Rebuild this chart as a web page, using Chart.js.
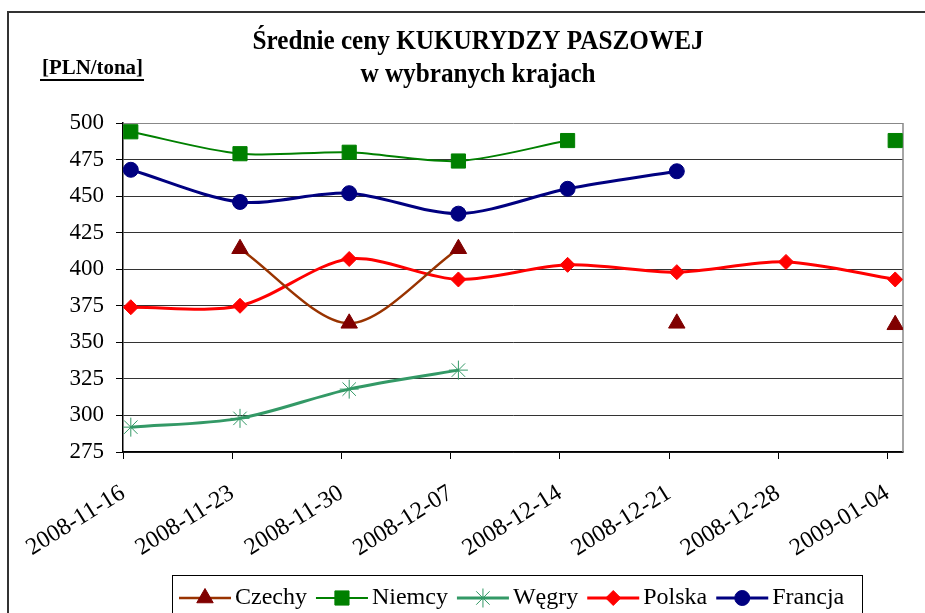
<!DOCTYPE html>
<html>
<head>
<meta charset="utf-8">
<title>Średnie ceny kukurydzy paszowej</title>
<script src="https://cdn.jsdelivr.net/npm/chart.js@4.4.0/dist/chart.umd.min.js"></script>
<style>
  body { margin: 0; background: #fff; }
</style>
</head>
<body>
<canvas id="chart" width="925" height="613"></canvas>
<script>
// weekly dates on the x axis
const dates = ['2008-11-16', '2008-11-23', '2008-11-30', '2008-12-07',
               '2008-12-14', '2008-12-21', '2008-12-28', '2009-01-04'];

// prices [PLN/tona], null = no quotation that week
const czechy  = [null, 414, 363, 414, null, 363, null, 362];
const niemcy  = [494, 479, 480, 474, 488, null, null, 488];
const wegry   = [292, 298, 318, 331, null, null, null, null];
const polska  = [374, 375, 407, 393, 403, 398, 405, 393];
const francja = [468, 446, 452, 438, 455, 467, null, null];

const yTicks = [275, 300, 325, 350, 375, 400, 425, 450, 475, 500];

const serif = '"Liberation Serif", "Times New Roman", serif';

// excel date axis: the points sit half a day right of the weekly tick
function points(values) {
  return values.map((v, i) => ({ x: i * 7 + 0.5, y: v }));
}

function series(label, values, line, marker, style, radius, width) {
  return {
    label: label,
    data: points(values),
    borderColor: line,
    backgroundColor: marker,
    borderWidth: width,
    pointStyle: style,
    pointRadius: radius,
    pointHoverRadius: radius,
    pointBackgroundColor: marker,
    pointBorderColor: marker,
    pointBorderWidth: 1,
    tension: 0.3,
    spanGaps: false
  };
}

const datasets = [
  series('Czechy', czechy, '#993300', '#800000', 'triangle', 9.5, 2.5),
  series('Niemcy', niemcy, '#008000', '#008000', 'rect', 10, 2),
  series('Węgry', wegry, '#339966', '#339966', 'star', 9.5, 3),
  series('Polska', polska, '#ff0000', '#ff0000', 'rectRot', 7.5, 3),
  series('Francja', francja, '#000080', '#000080', 'circle', 7.5, 3)
];

// narrow, tall text like the excel export
function squeezed(ctx, text, x, y, sx) {
  ctx.save();
  ctx.translate(x, y);
  ctx.scale(sx, 1);
  ctx.fillText(text, 0, 0);
  ctx.restore();
}

// title, unit, outer frame and the excel style legend
const decor = {
  id: 'decor',
  beforeDraw(chart) {
    const ctx = chart.ctx;
    ctx.save();
    ctx.fillStyle = '#fff';
    ctx.fillRect(0, 0, chart.width, chart.height);
    ctx.strokeStyle = '#333';
    ctx.lineWidth = 2;
    ctx.strokeRect(8, 12, 1000, 1000);
    ctx.restore();
  },
  beforeDatasetsDraw(chart) {
    const ctx = chart.ctx;
    const a = chart.chartArea;
    ctx.save();
    ctx.strokeStyle = '#888';
    ctx.lineWidth = 1.5;
    ctx.beginPath();
    ctx.moveTo(a.right, a.top);
    ctx.lineTo(a.right, a.bottom);
    ctx.stroke();
    ctx.restore();
  },
  afterDraw(chart) {
    const ctx = chart.ctx;
    ctx.save();
    ctx.fillStyle = '#000';
    ctx.textAlign = 'center';
    ctx.textBaseline = 'alphabetic';
    ctx.font = 'bold 28px ' + serif;
    squeezed(ctx, 'Średnie ceny KUKURYDZY PASZOWEJ', 478, 49, 0.9);
    squeezed(ctx, 'w wybranych krajach', 478, 82, 0.9);

    ctx.textAlign = 'left';
    ctx.font = 'bold 22px ' + serif;
    squeezed(ctx, '[PLN/tona]', 42, 74, 0.95);
    const uw = ctx.measureText('[PLN/tona]').width * 0.95;
    ctx.fillRect(40, 79, uw + 3, 2);

    // legend
    ctx.strokeStyle = '#000';
    ctx.lineWidth = 1;
    ctx.strokeRect(172.5, 575.5, 690, 60);
    ctx.font = '24px ' + serif;
    ctx.textBaseline = 'middle';
    let x = 179;
    const y = 598;
    chart.data.datasets.forEach(ds => {
      ctx.strokeStyle = ds.borderColor;
      ctx.lineWidth = ds.borderWidth;
      ctx.beginPath();
      ctx.moveTo(x, y);
      ctx.lineTo(x + 52, y);
      ctx.stroke();
      if (Chart.helpers && Chart.helpers.drawPoint) {
        ctx.fillStyle = ds.pointBackgroundColor;
        ctx.strokeStyle = ds.pointBorderColor;
        ctx.lineWidth = ds.pointBorderWidth;
        Chart.helpers.drawPoint(ctx, {
          pointStyle: ds.pointStyle,
          radius: ds.pointRadius,
          rotation: 0,
          borderWidth: ds.pointBorderWidth
        }, x + 26, y);
      }
      ctx.fillStyle = '#000';
      ctx.fillText(ds.label, x + 56, y);
      x += 56 + ctx.measureText(ds.label).width + 9;
    });
    ctx.restore();
  }
};

const ctx = document.getElementById('chart').getContext('2d');
const myChart = new Chart(ctx, {
  type: 'line',
  data: { datasets: datasets },
  options: {
    responsive: false,
    animation: false,
    events: [],
    layout: { padding: { top: 123, right: 22, left: 0, bottom: 0 } },
    plugins: {
      legend: { display: false },
      title: { display: false },
      tooltip: { enabled: false }
    },
    scales: {
      x: {
        type: 'linear',
        min: 0,
        max: 50,
        afterFit: s => { s.height = 161; },
        afterBuildTicks: s => { s.ticks = dates.map((d, i) => ({ value: i * 7 })); },
        grid: { drawOnChartArea: false, drawTicks: true, tickLength: 7, tickColor: '#000' },
        border: { color: '#000', width: 1.5 },
        ticks: {
          color: '#000',
          font: { family: serif, size: 24 },
          minRotation: 32,
          maxRotation: 32,
          padding: 20,
          autoSkip: false,
          callback: v => dates[Math.round(v / 7)]
        }
      },
      y: {
        min: 275,
        max: 500,
        afterFit: s => { s.width = 123; },
        afterBuildTicks: s => { s.ticks = yTicks.map(v => ({ value: v })); },
        grid: {
          color: c => (c.tick && c.tick.value === 500) ? '#888' : '#333',
          lineWidth: 1,
          tickLength: 7,
          tickColor: '#000'
        },
        border: { color: '#000', width: 1.5 },
        ticks: {
          color: '#000',
          font: { family: serif, size: 23 },
          padding: 12
        }
      }
    }
  },
  plugins: [decor]
});
</script>
</body>
</html>
